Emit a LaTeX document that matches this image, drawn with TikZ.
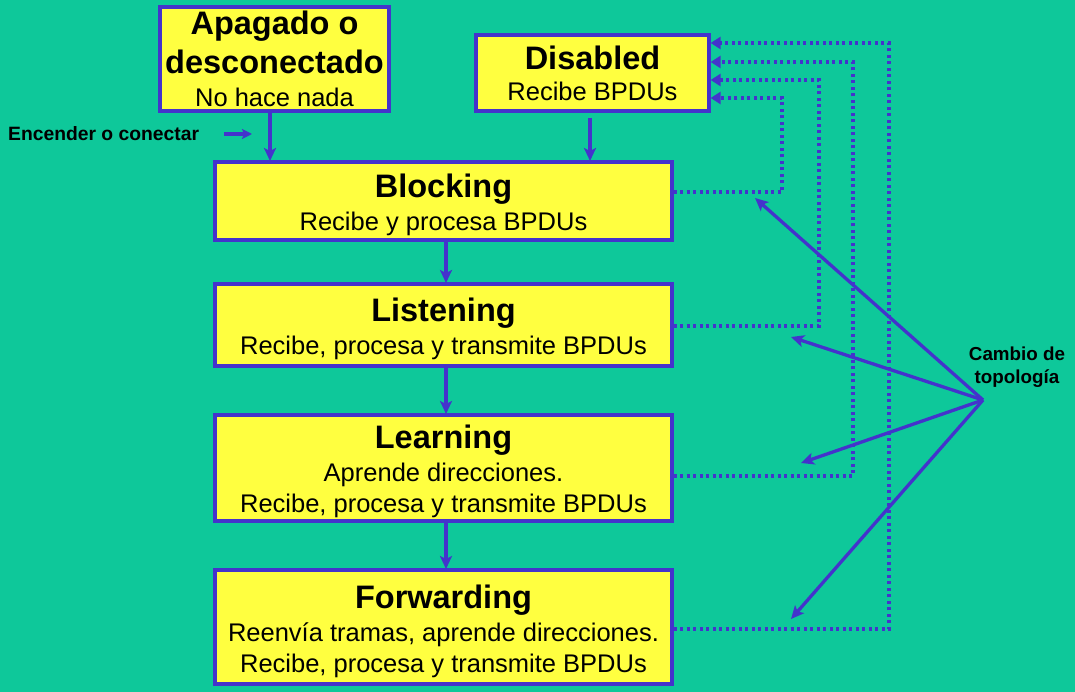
\documentclass[tikz,border=0pt]{standalone}
\usepackage{fontspec}
\setmainfont{Liberation Sans}
\usetikzlibrary{arrows.meta}
\definecolor{bg}{RGB}{14,200,154}
\definecolor{boxfill}{RGB}{255,255,64}
\definecolor{edge}{RGB}{68,51,204}
\tikzset{
  state/.style={draw=edge, line width=3.2pt, fill=boxfill},
  ttl/.style={anchor=base, inner sep=0pt, font=\bfseries\fontsize{32.5}{36}\selectfont},
  sub/.style={anchor=base, inner sep=0pt, font=\fontsize{25.5}{30}\selectfont},
  conn/.style={draw=edge, line width=3.3pt, -{Stealth[length=13pt,width=12pt,inset=3pt]}},
  dotconn/.style={draw=edge, line width=3.4pt, dash pattern=on 3.3pt off 3.2pt, -{Triangle[length=10pt,width=12pt]}},
  lbl/.style={font=\bfseries\fontsize{18.8}{22.5}\selectfont, align=center}
}
\begin{document}
\begin{tikzpicture}[x=1pt,y=-1pt]
\fill[bg] (0,0) rectangle (1075,692);
\useasboundingbox (0,0) rectangle (1075,692);
% boxes
\draw[state] (160,7) rectangle (389,111);
\node[ttl] (ap1) at (274.5,35) {Apagado o};
\node[ttl] (ap2) at (274.5,74) {desconectado};
\node[sub] (ap3) at (274.5,107) {No hace nada};
\draw[state] (476,35) rectangle (709,111);
\node[ttl] (di1) at (592.5,70) {Disabled};
\node[sub] (di2) at (592.5,101) {Recibe BPDUs};
\draw[state] (215,162) rectangle (672,240);
\node[ttl] (bl1) at (443.5,198) {Blocking};
\node[sub] (bl2) at (443.5,231) {Recibe y procesa BPDUs};
\draw[state] (215,284) rectangle (672,366);
\node[ttl] (li1) at (443.5,321) {Listening};
\node[sub] (li2) at (443.5,354) {Recibe, procesa y transmite BPDUs};
\draw[state] (215,415) rectangle (672,521);
\node[ttl] (le1) at (443.5,448) {Learning};
\node[sub] (le2) at (443.5,481) {Aprende direcciones.};
\node[sub] (le3) at (443.5,512) {Recibe, procesa y transmite BPDUs};
\draw[state] (215,570) rectangle (672,684);
\node[ttl] (fo1) at (443.5,608) {Forwarding};
\node[sub] (fo2) at (443.5,641) {Reenvía tramas, aprende direcciones.};
\node[sub] (fo3) at (443.5,672) {Recibe, procesa y transmite BPDUs};
% coordinates
\coordinate (apB) at (270,112.5);
\coordinate (blT1) at (270,161);
\coordinate (diB) at (590,118);
\coordinate (blT2) at (590,161);
\coordinate (blB) at (446,241.5);
\coordinate (liT) at (446,283);
\coordinate (liB) at (446,367.5);
\coordinate (leT) at (446,414);
\coordinate (leB) at (446,522.5);
\coordinate (foT) at (446,569);
\draw[conn] (apB) -- (blT1);
\draw[conn] (diB) -- (blT2);
\draw[conn] (blB) -- (liT);
\draw[conn] (liB) -- (leT);
\draw[conn] (leB) -- (foT);
% encender
\node (enc) at (8,134) [anchor=west, inner sep=0pt, font=\bfseries\fontsize{19.3}{22}\selectfont] {Encender o conectar};
\coordinate (encA) at (224,134);
\coordinate (encB) at (252,134);
\draw[conn, -{Stealth[length=10pt,width=10pt,inset=2pt]}] (encA) -- (encB);
% dotted feedback
\coordinate (bR) at (673.6,192);
\coordinate (lR) at (673.6,326);
\coordinate (eR) at (673.6,476);
\coordinate (fR) at (673.6,629);
\coordinate (d1) at (710.6,98);
\coordinate (d2) at (710.6,80);
\coordinate (d3) at (710.6,62);
\coordinate (d4) at (710.6,43);
\draw[dotconn] (bR) -| (782,98) -- (d1);
\draw[dotconn] (lR) -| (819,80) -- (d2);
\draw[dotconn] (eR) -| (853,62) -- (d3);
\draw[dotconn] (fR) -| (889,43) -- (d4);
% topology change
\node (topo) at (1017,367) [lbl] {Cambio de\\topología};
\coordinate (tp) at (983,400);
\coordinate (t1) at (755,198);
\coordinate (t2) at (791,337);
\coordinate (t3) at (801,463);
\coordinate (t4) at (791,619);
\draw[conn] (tp) -- (t1);
\draw[conn] (tp) -- (t2);
\draw[conn] (tp) -- (t3);
\draw[conn] (tp) -- (t4);
\end{tikzpicture}
\end{document}
